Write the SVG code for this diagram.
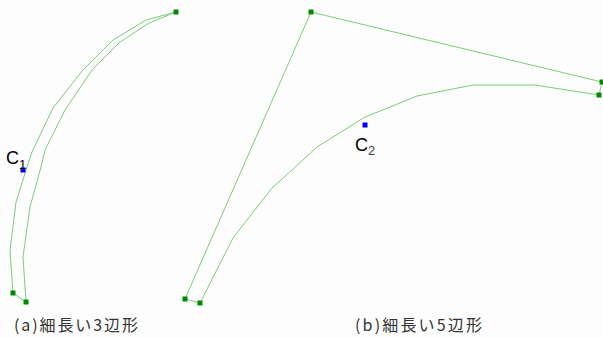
<svg xmlns="http://www.w3.org/2000/svg" width="603" height="338" viewBox="0 0 603 338">
<style>
.edge{fill:none;stroke:#7ccc7c;stroke-width:1;stroke-linejoin:round}
.vtx{fill:#008a00}
.ctr{fill:#0000ff}
.lbl{font-family:"Liberation Sans",Arial,sans-serif;fill:#000}
.cap{font-family:"Noto Sans CJK JP","Noto Sans CJK SC",serif;font-size:16px;fill:#333}
</style>
<rect width="603" height="338" fill="#fdfdfd"/>
<g id="connectors">
<polyline class="edge" points="176,12 146,20 113,40 82,71 53,108 32,152 27,167 16,202 10,250 13,293"/>
<polyline class="edge" points="176,12 149,23 120,42 92,70 65,110 45,150 41,167 30,207 23,257 26,302"/>
<line class="edge" x1="13" y1="293" x2="26" y2="302"/>
<polyline class="edge" points="185,299 311,12 602,82 599,95 535,85 473,85 417,96 390,107 365,117 317,147 292,170 272,188 233,238 200,303 185,299"/>
</g>
<g id="shape-a">
<rect class="vtx" x="173.5" y="9.5" width="5" height="5"/>
<rect class="vtx" x="10.5" y="290.5" width="5" height="5"/>
<rect class="vtx" x="23.5" y="299.5" width="5" height="5"/>
</g>
<g id="shape-b">
<rect class="vtx" x="308.5" y="9.5" width="5" height="5"/>
<rect class="vtx" x="599.5" y="79.5" width="5" height="5"/>
<rect class="vtx" x="596.5" y="92.5" width="5" height="5"/>
<rect class="vtx" x="182.5" y="296.5" width="5" height="5"/>
<rect class="vtx" x="197.5" y="300.5" width="5" height="5"/>
</g>
<g id="c1">
<rect class="ctr" x="20.5" y="167.5" width="5" height="5"/>
<text class="lbl" x="6" y="164" font-size="18">C<tspan font-size="13" dy="5">1</tspan></text>
</g>
<g id="c2">
<rect class="ctr" x="362.5" y="122.5" width="5" height="5"/>
<text class="lbl" x="355" y="151" font-size="18">C<tspan font-size="13" dy="4" fill="#444">2</tspan></text>
</g>
<g id="captions">
<text class="cap" x="14" y="331" textLength="124" lengthAdjust="spacing">(a)細長い3辺形</text>
<text class="cap" x="355" y="331" textLength="127" lengthAdjust="spacing">(b)細長い5辺形</text>
</g>
</svg>
